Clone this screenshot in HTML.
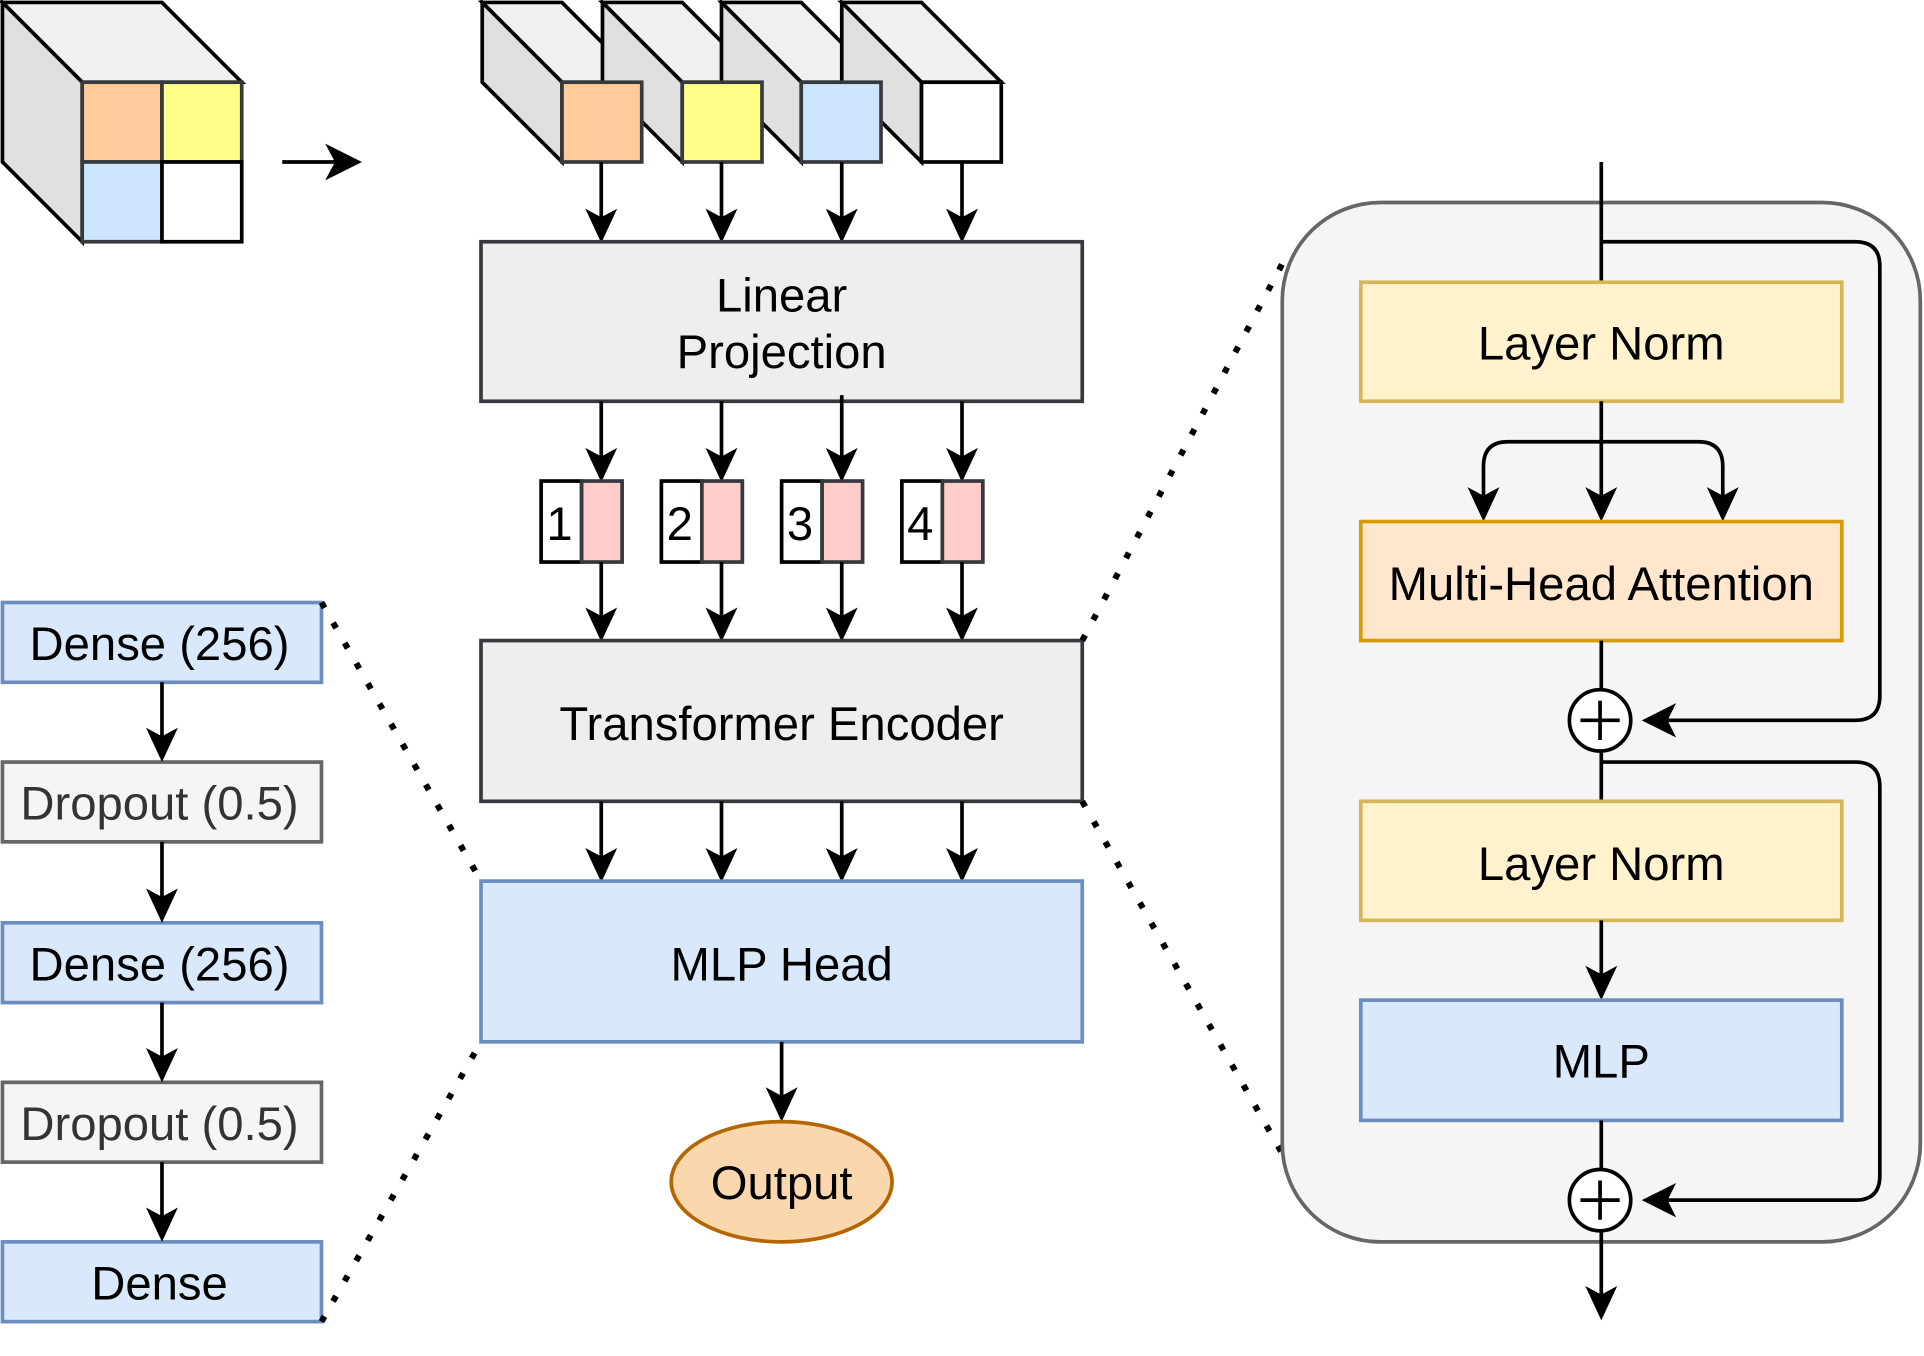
<!DOCTYPE html>
<html><head><meta charset="utf-8"><style>
html,body{margin:0;padding:0;background:#fff;}
svg{display:block;}
text{font-family:"Liberation Sans",Arial,sans-serif;font-size:38.5px;}
</style></head><body>
<svg width="1924" height="1356" viewBox="0 0 1568 1105" preserveAspectRatio="none" xmlns="http://www.w3.org/2000/svg">
<style>
.ln{stroke:#000;stroke-width:3;fill:none;}
.ah{fill:#000;}
.dot{stroke:#000;stroke-width:5;stroke-dasharray:5 14;fill:none;}
</style>

<polygon points="2,2 132,2 197,67 67,67" fill="#f0f0f0" stroke="#000" stroke-width="3"/>
<polygon points="2,2 67,67 67,197 2,132" fill="#e0e0e0" stroke="#000" stroke-width="3"/>
<rect x="67" y="67" width="65" height="65" fill="#ffcc99" stroke="#36393d" stroke-width="3"/>
<rect x="132" y="67" width="65" height="65" fill="#ffff88" stroke="#36393d" stroke-width="3"/>
<rect x="67" y="132" width="65" height="65" fill="#cce5ff" stroke="#36393d" stroke-width="3"/>
<rect x="132" y="132" width="65" height="65" fill="#ffffff" stroke="#000" stroke-width="3"/>

<line x1="230" y1="132" x2="280" y2="132" class="ln"/>
<polygon points="295,132 265,117 273,132 265,147" class="ah"/>

<g stroke="#000" stroke-width="3">
<polygon points="393,2 458,2 523,67 458,67" fill="#f0f0f0"/>
<polygon points="393,2 458,67 458,132 393,67" fill="#e0e0e0"/>
<polygon points="491,2 556,2 621,67 556,67" fill="#f0f0f0"/>
<polygon points="491,2 556,67 556,132 491,67" fill="#e0e0e0"/>
<polygon points="588,2 653,2 718,67 653,67" fill="#f0f0f0"/>
<polygon points="588,2 653,67 653,132 588,67" fill="#e0e0e0"/>
<polygon points="686,2 751,2 816,67 751,67" fill="#f0f0f0"/>
<polygon points="686,2 751,67 751,132 686,67" fill="#e0e0e0"/>
<rect x="458" y="67" width="65" height="65" fill="#ffcc99" stroke="#36393d"/>
<rect x="556" y="67" width="65" height="65" fill="#ffff88" stroke="#36393d"/>
<rect x="653" y="67" width="65" height="65" fill="#cce5ff" stroke="#36393d"/>
<rect x="751" y="67" width="65" height="65" fill="#ffffff"/>
</g>

<g>
<line x1="490" y1="132" x2="490" y2="185" class="ln"/><polygon points="490,198 477,170 490,177 503,170" class="ah"/>
<line x1="588" y1="132" x2="588" y2="185" class="ln"/><polygon points="588,198 575,170 588,177 601,170" class="ah"/>
<line x1="686" y1="132" x2="686" y2="185" class="ln"/><polygon points="686,198 673,170 686,177 699,170" class="ah"/>
<line x1="784" y1="132" x2="784" y2="185" class="ln"/><polygon points="784,198 771,170 784,177 797,170" class="ah"/>
</g>

<rect x="392" y="197" width="490" height="130" fill="#eeeeee" stroke="#36393d" stroke-width="3"/>
<text x="637" y="254" text-anchor="middle">Linear</text>
<text x="637" y="300" text-anchor="middle">Projection</text>

<g>
<line x1="490" y1="327" x2="490" y2="380" class="ln"/><polygon points="490,393 477,365 490,372 503,365" class="ah"/>
<line x1="588" y1="327" x2="588" y2="380" class="ln"/><polygon points="588,393 575,365 588,372 601,365" class="ah"/>
<line x1="686" y1="322" x2="686" y2="380" class="ln"/><polygon points="686,393 673,365 686,372 699,365" class="ah"/>
<line x1="784" y1="327" x2="784" y2="380" class="ln"/><polygon points="784,393 771,365 784,372 797,365" class="ah"/>
</g>

<g stroke-width="3">
<rect x="441" y="392" width="33" height="66" fill="#fff" stroke="#000"/><rect x="474" y="392" width="33" height="66" fill="#ffcccc" stroke="#36393d"/>
<rect x="539" y="392" width="33" height="66" fill="#fff" stroke="#000"/><rect x="572" y="392" width="33" height="66" fill="#ffcccc" stroke="#36393d"/>
<rect x="637" y="392" width="33" height="66" fill="#fff" stroke="#000"/><rect x="670" y="392" width="33" height="66" fill="#ffcccc" stroke="#36393d"/>
<rect x="735" y="392" width="33" height="66" fill="#fff" stroke="#000"/><rect x="768" y="392" width="33" height="66" fill="#ffcccc" stroke="#36393d"/>
</g>
<g text-anchor="middle">
<text x="456" y="440">1</text><text x="554" y="440">2</text><text x="652" y="440">3</text><text x="750" y="440">4</text>
</g>

<g>
<line x1="490" y1="458" x2="490" y2="510" class="ln"/><polygon points="490,523 477,495 490,502 503,495" class="ah"/>
<line x1="588" y1="458" x2="588" y2="510" class="ln"/><polygon points="588,523 575,495 588,502 601,495" class="ah"/>
<line x1="686" y1="458" x2="686" y2="510" class="ln"/><polygon points="686,523 673,495 686,502 699,495" class="ah"/>
<line x1="784" y1="458" x2="784" y2="510" class="ln"/><polygon points="784,523 771,495 784,502 797,495" class="ah"/>
</g>

<rect x="392" y="522" width="490" height="131" fill="#eeeeee" stroke="#36393d" stroke-width="3"/>
<text x="637" y="603" text-anchor="middle">Transformer Encoder</text>

<g>
<line x1="490" y1="653" x2="490" y2="706" class="ln"/><polygon points="490,719 477,691 490,698 503,691" class="ah"/>
<line x1="588" y1="653" x2="588" y2="706" class="ln"/><polygon points="588,719 575,691 588,698 601,691" class="ah"/>
<line x1="686" y1="653" x2="686" y2="706" class="ln"/><polygon points="686,719 673,691 686,698 699,691" class="ah"/>
<line x1="784" y1="653" x2="784" y2="706" class="ln"/><polygon points="784,719 771,691 784,698 797,691" class="ah"/>
</g>

<rect x="392" y="718" width="490" height="131" fill="#dae8fc" stroke="#6c8ebf" stroke-width="3"/>
<text x="637" y="799" text-anchor="middle">MLP Head</text>

<line x1="637" y1="849" x2="637" y2="901" class="ln"/><polygon points="637,914 624,886 637,893 650,886" class="ah"/>
<ellipse cx="637" cy="963" rx="90" ry="49" fill="#fad7ac" stroke="#b46504" stroke-width="3"/>
<text x="637" y="977" text-anchor="middle">Output</text>

<rect x="2" y="491" width="260" height="65" fill="#dae8fc" stroke="#6c8ebf" stroke-width="3"/>
<text x="130" y="538" text-anchor="middle">Dense (256)</text>
<rect x="2" y="621" width="260" height="65" fill="#f5f5f5" stroke="#666" stroke-width="3"/>
<text x="130" y="668" text-anchor="middle" fill="#333">Dropout (0.5)</text>
<rect x="2" y="752" width="260" height="65" fill="#dae8fc" stroke="#6c8ebf" stroke-width="3"/>
<text x="130" y="799" text-anchor="middle">Dense (256)</text>
<rect x="2" y="882" width="260" height="65" fill="#f5f5f5" stroke="#666" stroke-width="3"/>
<text x="130" y="929" text-anchor="middle" fill="#333">Dropout (0.5)</text>
<rect x="2" y="1012" width="260" height="65" fill="#dae8fc" stroke="#6c8ebf" stroke-width="3"/>
<text x="130" y="1059" text-anchor="middle">Dense</text>
<g>
<line x1="132" y1="556" x2="132" y2="608" class="ln"/><polygon points="132,621 119,593 132,600 145,593" class="ah"/>
<line x1="132" y1="686" x2="132" y2="739" class="ln"/><polygon points="132,752 119,724 132,731 145,724" class="ah"/>
<line x1="132" y1="817" x2="132" y2="869" class="ln"/><polygon points="132,882 119,854 132,861 145,854" class="ah"/>
<line x1="132" y1="947" x2="132" y2="999" class="ln"/><polygon points="132,1012 119,984 132,991 145,984" class="ah"/>
</g>

<line x1="262" y1="491" x2="392" y2="718" class="dot"/>
<line x1="262" y1="1077" x2="392" y2="849" class="dot"/>
<line x1="882" y1="522" x2="1045" y2="215" class="dot"/>
<line x1="882" y1="653" x2="1045" y2="940" class="dot"/>

<rect x="1045" y="165" width="520" height="847" rx="80" ry="80" fill="#f5f5f5" stroke="#666" stroke-width="3"/>

<path d="M1305 132 V230" class="ln"/>
<path d="M1305 197 H1512 Q1532 197 1532 217 V567 Q1532 587 1512 587 H1352" class="ln"/>
<polygon points="1338,587 1366,573 1359,587 1366,601" class="ah"/>

<rect x="1109" y="230" width="392" height="97" fill="#fff2cc" stroke="#d6b656" stroke-width="3"/>
<text x="1305" y="293" text-anchor="middle">Layer Norm</text>

<path d="M1305 327 V412" class="ln"/><polygon points="1305,425 1292,397 1305,404 1318,397" class="ah"/>
<path d="M1209 412 V380 Q1209 360 1229 360 H1384 Q1404 360 1404 380 V412" class="ln"/>
<polygon points="1209,425 1196,397 1209,404 1222,397" class="ah"/>
<polygon points="1404,425 1391,397 1404,404 1417,397" class="ah"/>

<rect x="1109" y="425" width="392" height="97" fill="#ffe6cc" stroke="#d79b00" stroke-width="3"/>
<text x="1305" y="489" text-anchor="middle">Multi-Head Attention</text>

<path d="M1305 522 V562" class="ln"/>
<circle cx="1304" cy="587" r="25" fill="#fff" stroke="#000" stroke-width="3"/>
<path d="M1288 587 H1320 M1304 571 V603" class="ln"/>
<path d="M1305 612 V653" class="ln"/>
<path d="M1305 621 H1512 Q1532 621 1532 641 V958 Q1532 978 1512 978 H1352" class="ln"/>
<polygon points="1338,978 1366,964 1359,978 1366,992" class="ah"/>

<rect x="1109" y="653" width="392" height="97" fill="#fff2cc" stroke="#d6b656" stroke-width="3"/>
<text x="1305" y="717" text-anchor="middle">Layer Norm</text>
<path d="M1305 750 V802" class="ln"/><polygon points="1305,815 1292,787 1305,794 1318,787" class="ah"/>

<rect x="1109" y="815" width="392" height="98" fill="#dae8fc" stroke="#6c8ebf" stroke-width="3"/>
<text x="1305" y="878" text-anchor="middle">MLP</text>

<path d="M1305 913 V953" class="ln"/>
<circle cx="1304" cy="978" r="25" fill="#fff" stroke="#000" stroke-width="3"/>
<path d="M1288 978 H1320 M1304 962 V994" class="ln"/>
<path d="M1305 1003 V1062" class="ln"/><polygon points="1305,1076 1292,1048 1305,1055 1318,1048" class="ah"/>
</svg>
</body></html>
